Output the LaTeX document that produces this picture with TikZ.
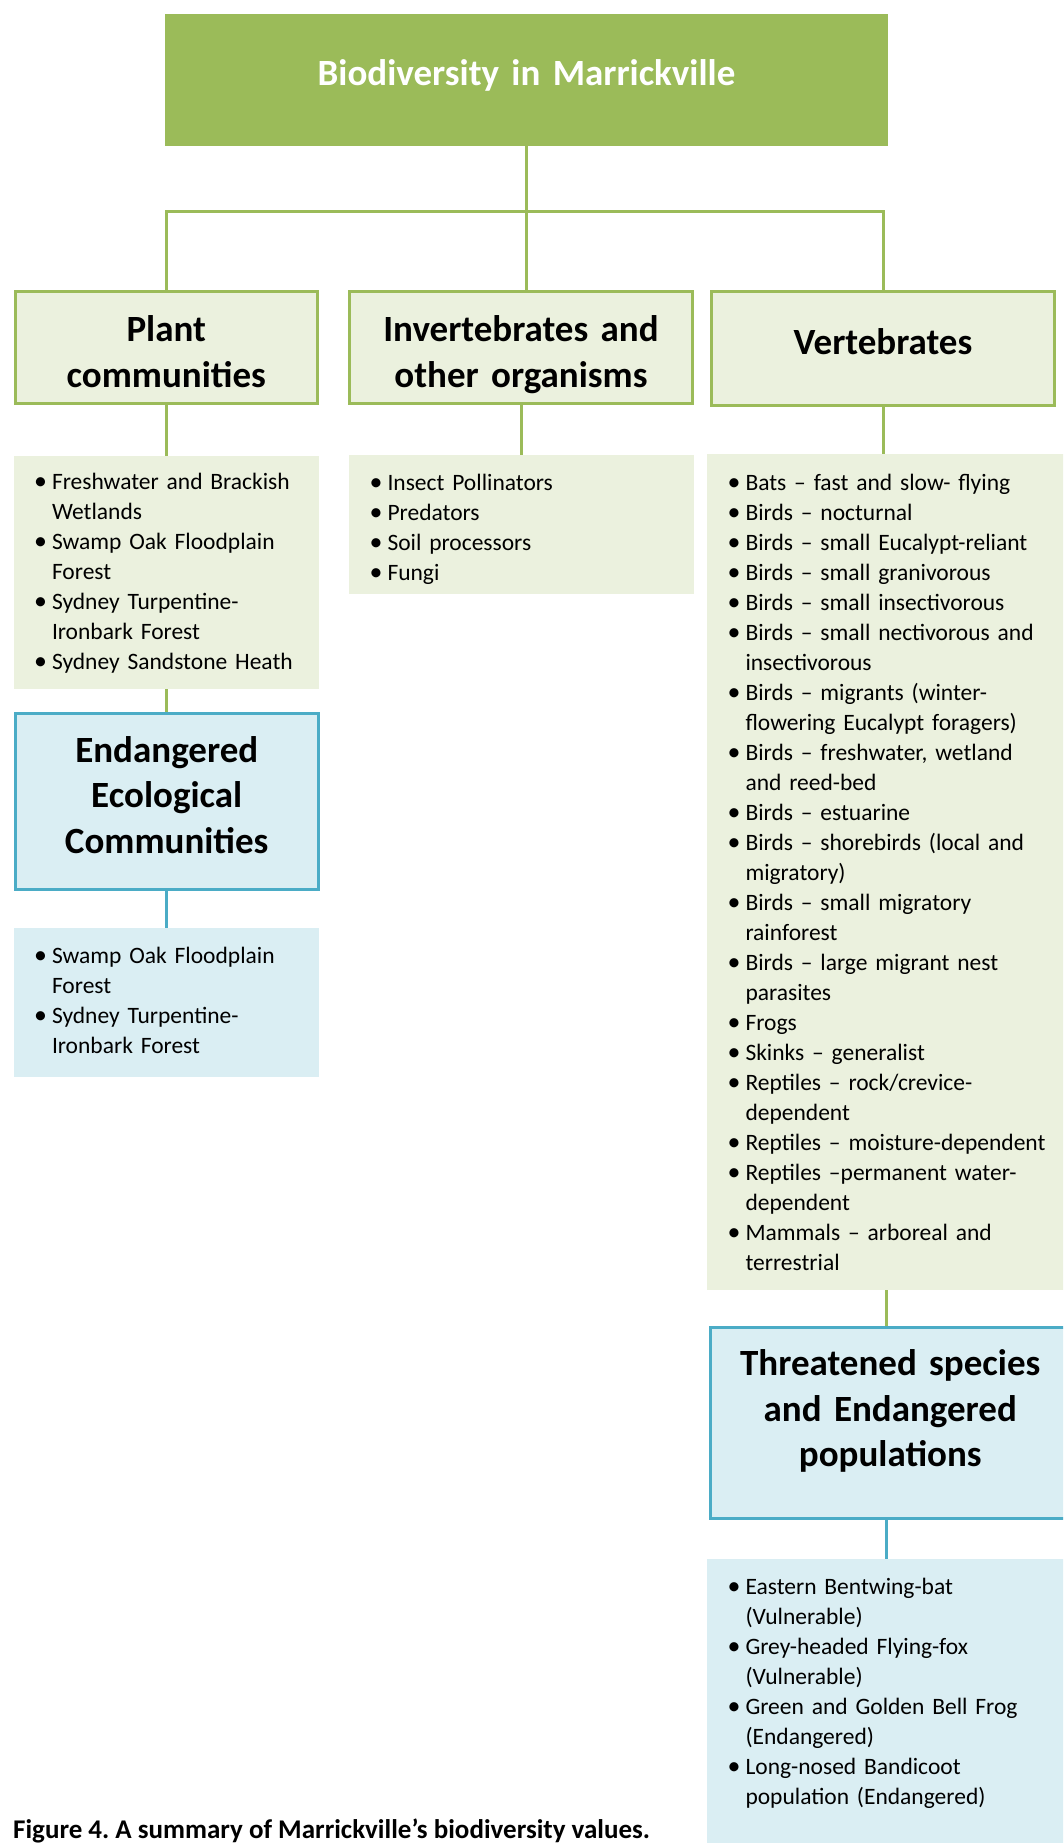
\documentclass[tikz,border=0pt]{standalone}
\usepackage{fontspec}
\usepackage{graphicx}
\setmainfont{Carlito}
\frenchspacing
\definecolor{grnline}{HTML}{9BBB59}
\definecolor{grnfill}{HTML}{EBF1DE}
\definecolor{bluline}{HTML}{4BACC6}
\definecolor{blufill}{HTML}{DAEEF3}

% one bullet line, later lines hang under the text
\newcommand{\itm}[1]{\hangindent=38.5pt\hangafter=1\noindent\makebox[38.5pt][l]{\hspace{20.5pt}\scalebox{1.1}{\textbullet}}#1\par}

\tikzset{
  head/.style={inner sep=0pt, align=center, font=\fontsize{37}{45.5}\selectfont\bfseries,
    execute at begin node=\strut, execute at end node=\strut},
  grnhead/.style={head, draw=grnline, fill=grnfill, line width=3pt},
  bluhead/.style={head, draw=bluline, fill=blufill, line width=3pt},
  lst/.style={inner sep=0pt, align=left, font=\fontsize{23.5}{30}\selectfont},
  grnlst/.style={lst, fill=grnfill},
  blulst/.style={lst, fill=blufill},
  lift/.style={execute at end node={\par\vspace{#1}}},
  grnconn/.style={grnline, line width=3pt},
  bluconn/.style={bluline, line width=3pt},
}

\begin{document}
\begin{tikzpicture}[x=1pt,y=-1pt]
\useasboundingbox (0,0) rectangle (1063,1843);
\clip (0,0) rectangle (1063,1843);

% top box
\node[head, fill=grnline, text=white, text width=723pt, minimum height=132pt, lift=8pt] (top) at (526.5,80) {Biodiversity in Marrickville};

% second row
\node[grnhead, text width=302.5pt, minimum height=112pt, lift=-16pt] (plant) at (166.25,347.5) {Plant\\communities};
\node[grnhead, text width=343pt, minimum height=112pt, lift=-16pt] (inv) at (521,347.5) {Invertebrates and\\other organisms};
\node[grnhead, text width=343pt, minimum height=114pt, lift=7pt] (vert) at (883,348.5) {Vertebrates};

% lists
\node[grnlst, text width=305.5pt, minimum height=233pt, lift=-2pt] (plantlist) at (166.25,572.5) {%
  \itm{Freshwater and Brackish\newline Wetlands}
  \itm{Swamp Oak Floodplain\newline Forest}
  \itm{Sydney Turpentine-\newline Ironbark Forest}
  \itm{Sydney Sandstone Heath}};
\node[grnlst, text width=345pt, minimum height=139pt, lift=-10pt] (invlist) at (521.5,524.5) {%
  \itm{Insect Pollinators}
  \itm{Predators}
  \itm{Soil processors}
  \itm{Fungi}};
\node[grnlst, text width=358pt, minimum height=836pt, lift=0pt] (vertlist) at (886,872) {%
  \itm{Bats – fast and slow- flying}
  \itm{Birds – nocturnal}
  \itm{Birds – small Eucalypt-reliant}
  \itm{Birds – small granivorous}
  \itm{Birds – small insectivorous}
  \itm{Birds – small nectivorous and\newline insectivorous}
  \itm{Birds – migrants (winter-\newline flowering Eucalypt foragers)}
  \itm{Birds – freshwater, wetland\newline and reed-bed}
  \itm{Birds – estuarine}
  \itm{Birds – shorebirds (local and\newline migratory)}
  \itm{Birds – small migratory\newline rainforest}
  \itm{Birds – large migrant nest\newline parasites}
  \itm{Frogs}
  \itm{Skinks – generalist}
  \itm{Reptiles – rock/crevice-\newline dependent}
  \itm{Reptiles – moisture-dependent}
  \itm{Reptiles –permanent water-\newline dependent}
  \itm{Mammals – arboreal and\newline terrestrial}};

% endangered communities
\node[bluhead, text width=303.5pt, minimum height=176pt, lift=6pt] (eec) at (166.75,801.5) {Endangered\\Ecological\\Communities};
\node[blulst, text width=305.5pt, minimum height=149pt, lift=5pt] (eeclist) at (166.25,1002.5) {%
  \itm{Swamp Oak Floodplain\newline Forest}
  \itm{Sydney Turpentine-\newline Ironbark Forest}};

% threatened species
\node[bluhead, text width=359.5pt, minimum height=191pt, lift=22pt] (tsep) at (890.25,1423) {Threatened species\\and Endangered\\populations};
\node[blulst, text width=358pt, minimum height=291pt, lift=22pt] (tseplist) at (886,1704.5) {%
  \itm{Eastern Bentwing-bat\newline (Vulnerable)}
  \itm{Grey-headed Flying-fox\newline (Vulnerable)}
  \itm{Green and Golden Bell Frog\newline (Endangered)}
  \itm{Long-nosed Bandicoot\newline population (Endangered)}};

% connectors
\coordinate (bar) at (526.5,212);
\draw[grnconn] (top.south) -- (top.south |- inv.north);
\draw[grnconn] (plant.north) |- (bar) -| (vert.north);
\draw[grnconn] (plant.south) -- (plant.south |- plantlist.north);
\draw[grnconn] (inv.south) -- (inv.south |- invlist.north);
\draw[grnconn] (vert.south) -- (vert.south |- vertlist.north);
\draw[grnconn] (plantlist.south) -- (plantlist.south |- eec.north);
\draw[bluconn] (eec.south) -- (eec.south |- eeclist.north);
\draw[grnconn] (vertlist.south) -- (vertlist.south |- tsep.north);
\draw[bluconn] (tseplist.north) -- (tseplist.north |- tsep.south);

% caption
\node[anchor=base west, inner sep=0pt, font=\fontsize{27}{30}\selectfont\bfseries] (cap) at (13,1838) {Figure 4. A summary of Marrickville’s biodiversity values.};

\end{tikzpicture}
\end{document}
